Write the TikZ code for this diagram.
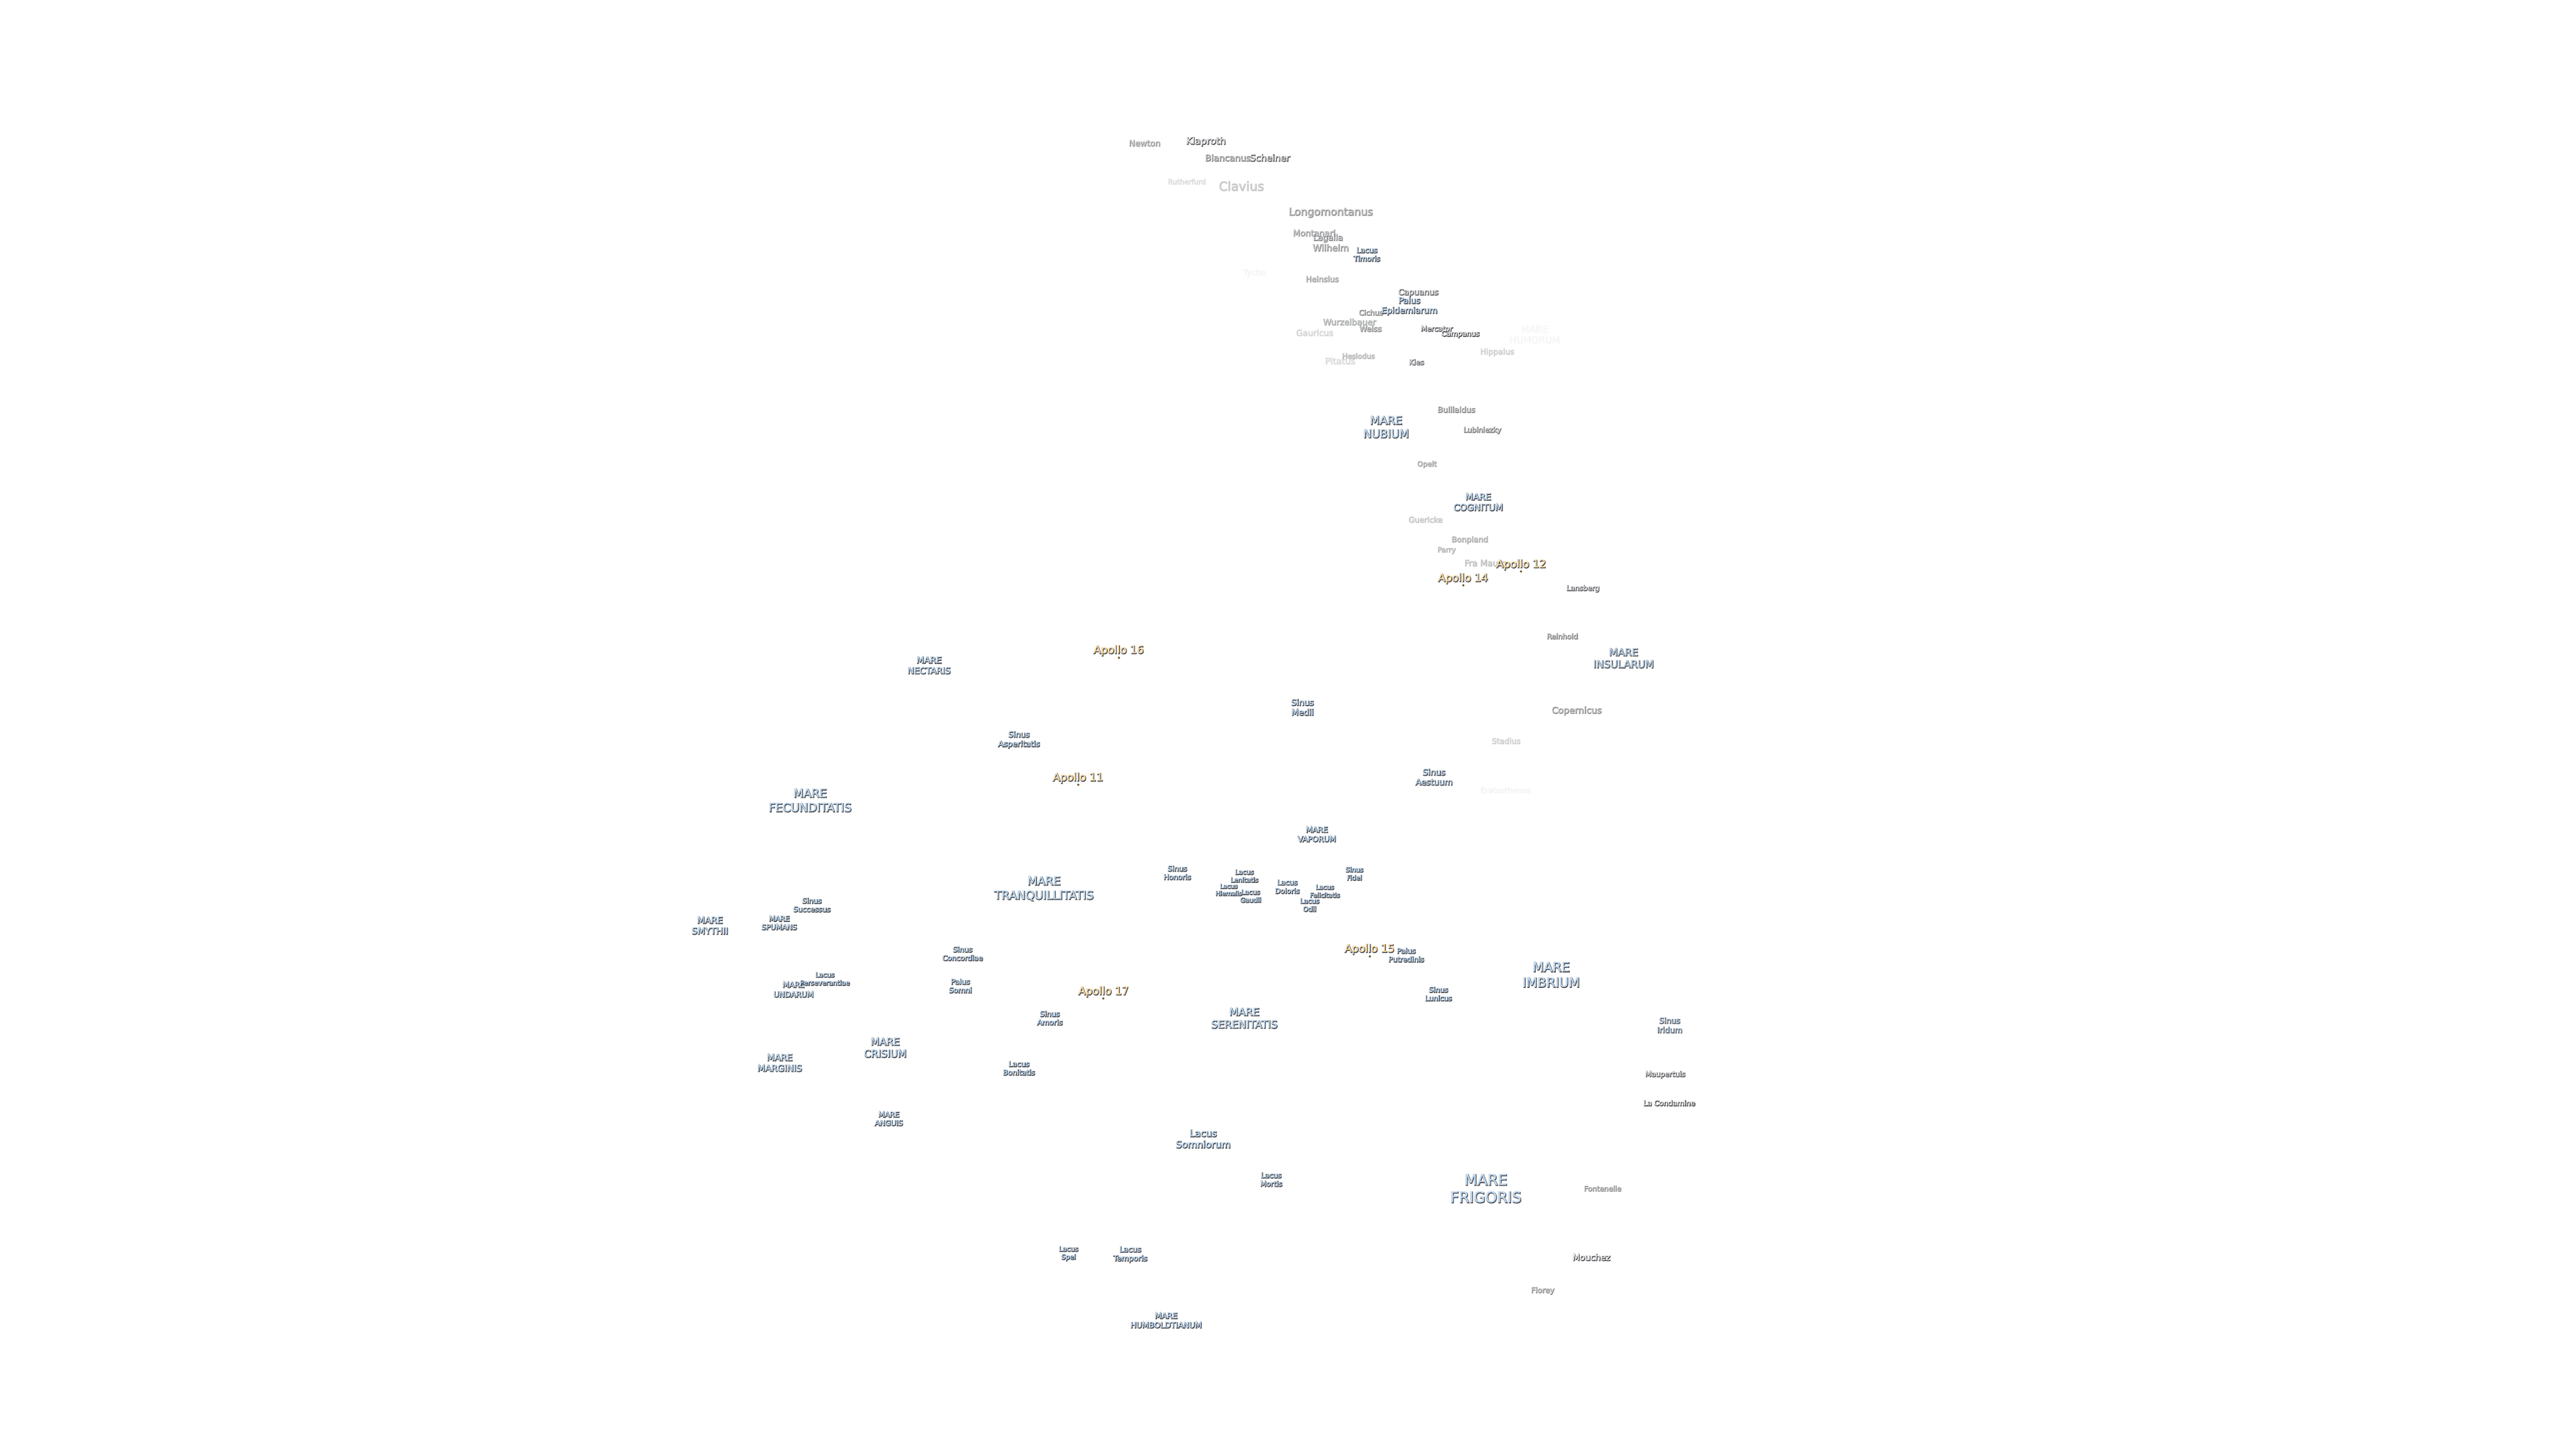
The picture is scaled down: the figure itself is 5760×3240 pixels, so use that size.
\documentclass[tikz,border=0pt]{standalone}
\usepackage{fontspec}
\setmainfont{DejaVu Sans}
\definecolor{marefill}{HTML}{C4DCF3}
\definecolor{apfill}{HTML}{FBDFAE}
\definecolor{cratfill}{HTML}{F0F0F0}
\definecolor{dotcol}{HTML}{7A5F35}
\definecolor{shadecol}{HTML}{2E3035}
\newcommand\halosm{\special{pdf:code 2 Tr 0.3 w}}
\newcommand\halosh{\special{pdf:code 2 Tr 2.0 w}}
\newcommand\halooff{\special{pdf:code 0 Tr}}
\AtBeginDocument{\lineskiplimit=-100pt\relax}
\tikzset{
  labelbase/.style={inner sep=0pt,outer sep=0pt,align=center,anchor=center},
  mare/.style={labelbase,text=marefill},
  apollo/.style={labelbase,text=apfill},
  crater/.style={labelbase,text=cratfill},
  shadowtext/.style={labelbase,text=shadecol},
  sitedot/.style={circle,inner sep=0pt,minimum size=5pt,fill=dotcol}
}
% id, x, y, font size, line spacing, kind, opacity, text
\newcommand\lab[8]{%
  \pgfmathsetlengthmacro\labh{0.73*#4}%
  \pgfmathsetmacro\labso{0.75*#7}%
  \pgfmathsetmacro\laby{#3+0.5*#5-2*(#5==0)}%
  \node[shadowtext,opacity=\labso,text height=\labh,text depth=0pt,
        font=\fontsize{#4}{#5}\selectfont] (#1s) at (#2pt+1pt,-\laby pt-1.5pt) {\halosh #8\halooff};
  \node[#6,opacity=#7,text height=\labh,text depth=0pt,
        font=\fontsize{#4}{#5}\selectfont] (#1) at (#2pt,-\laby pt) {\halosm #8\halooff};
}
\begin{document}
\begin{tikzpicture}
\useasboundingbox (0pt,0pt) rectangle (5760pt,-3240pt);
\fill[white] (0pt,0pt) rectangle (5760pt,-3240pt);
% craters
\lab{newton}{2559}{321}{18.4}{0}{crater}{.45}{Newton}
\lab{klaproth}{2696}{316}{21}{0}{crater}{.95}{Klaproth}
\lab{blancanus}{2745}{354}{19.7}{0}{crater}{.6}{Blancanus}
\lab{scheiner}{2839}{354}{20.4}{0}{crater}{.9}{Scheiner}
\lab{rutherfurd}{2653}{407}{15.8}{0}{crater}{.12}{Rutherfurd}
\lab{clavius}{2775}{417}{28}{0}{crater}{.22}{Clavius}
\lab{longomontanus}{2975}{474}{23.4}{0}{crater}{.5}{Longomontanus}
\lab{montanari}{2938}{522}{18.8}{0}{crater}{.45}{Montanari}
\lab{lagalla}{2969}{532}{18.6}{0}{crater}{.55}{Lagalla}
\lab{wilhelm}{2975}{555}{20}{0}{crater}{.5}{Wilhelm}
\lab{tycho}{2805}{610}{17.5}{0}{crater}{.03}{Tycho}
\lab{heinsius}{2956}{625}{17.4}{0}{crater}{.4}{Heinsius}
\lab{capuanus}{3171}{654}{18}{0}{crater}{.8}{Capuanus}
\lab{cichus}{3065}{700}{16.3}{0}{crater}{.55}{Cichus}
\lab{wurzelbauer}{3017}{721}{18.7}{0}{crater}{.35}{Wurzelbauer}
\lab{weiss}{3064}{736}{17.3}{0}{crater}{.5}{Weiss}
\lab{gauricus}{2939}{745}{18.8}{0}{crater}{.15}{Gauricus}
\lab{mercator}{3212}{736}{16}{0}{crater}{.9}{Mercator}
\lab{campanus}{3265}{747}{16}{0}{crater}{1}{Campanus}
\lab{hippalus}{3347}{787}{17.4}{0}{crater}{.18}{Hippalus}
\lab{hesiodus}{3037}{797}{16}{0}{crater}{.3}{Hesiodus}
\lab{pitatus}{2996}{808}{19.8}{0}{crater}{.13}{Pitatus}
\lab{kies}{3167}{811}{16.2}{0}{crater}{.7}{Kies}
\lab{bullialdus}{3256}{917}{17.4}{0}{crater}{.55}{Bullialdus}
\lab{lubiniezky}{3314}{962}{16}{0}{crater}{.65}{Lubiniezky}
\lab{opelt}{3190}{1038}{16}{0}{crater}{.4}{Opelt}
\lab{guericke}{3187}{1163}{17.2}{0}{crater}{.22}{Guericke}
\lab{bonpland}{3286}{1207}{17.3}{0}{crater}{.35}{Bonpland}
\lab{parry}{3234}{1230}{15.8}{0}{crater}{.3}{Parry}
\lab{framauro}{3321}{1260}{19}{0}{crater}{.25}{Fra Mauro}
\lab{lansberg}{3539}{1316}{16}{0}{crater}{.8}{Lansberg}
\lab{reinhold}{3493}{1424}{16}{0}{crater}{.6}{Reinhold}
\lab{copernicus}{3525}{1589}{20}{0}{crater}{.5}{Copernicus}
\lab{stadius}{3367}{1658}{17.3}{0}{crater}{.18}{Stadius}
\lab{eratosthenes}{3366}{1768}{17.1}{0}{crater}{.03}{Eratosthenes}
\lab{maupertuis}{3723}{2403}{16}{0}{crater}{.9}{Maupertuis}
\lab{lacondamine}{3732}{2468}{16.1}{0}{crater}{1}{La Condamine}
\lab{fontenelle}{3583}{2659}{16}{0}{crater}{.5}{Fontenelle}
\lab{mouchez}{3558}{2813}{19}{0}{crater}{1}{Mouchez}
\lab{florey}{3449}{2886}{17}{0}{crater}{.5}{Florey}
% maria, lakes, bays
\lab{timoris}{3056}{568}{16.2}{19}{mare}{1}{Lacus\\Timoris}
\lab{epidemiarum}{3151}{682}{18.7}{22}{mare}{1}{Palus\\Epidemiarum}
\lab{humorum}{3431}{747}{20.9}{24}{mare}{.02}{MARE\\HUMORUM}
\lab{nubium}{3099}{954}{25.2}{30}{mare}{1}{MARE\\NUBIUM}
\lab{cognitum}{3305}{1122}{20}{23.6}{mare}{1}{MARE\\COGNITUM}
\lab{insularum}{3630}{1471}{22.7}{26.7}{mare}{.85}{MARE\\INSULARUM}
\lab{medii}{2912}{1581}{18.7}{22}{mare}{1}{Sinus\\Medii}
\lab{aestuum}{3206}{1737}{18.7}{22}{mare}{1}{Sinus\\Aestuum}
\lab{vaporum}{2944}{1865}{17.2}{21}{mare}{1}{MARE\\VAPORUM}
\lab{honoris}{2632}{1951}{16}{19}{mare}{1}{Sinus\\Honoris}
\lab{lenitatis}{2782}{1958}{14.5}{17.7}{mare}{1}{Lacus\\Lenitatis}
\lab{hiemalis}{2747}{1989}{13.6}{16}{mare}{1}{Lacus\\Hiemalis}
\lab{gaudii}{2796}{2003}{14.6}{17.7}{mare}{1}{Lacus\\Gaudii}
\lab{doloris}{2878}{1982}{15.8}{19}{mare}{1}{Lacus\\Doloris}
\lab{felicitatis}{2962}{1992}{14.2}{18}{mare}{1}{Lacus\\Felicitatis}
\lab{odii}{2928}{2023}{15}{18}{mare}{1}{Lacus\\Odii}
\lab{fidei}{3028}{1953}{14.6}{18}{mare}{1}{Sinus\\Fidei}
\lab{putredinis}{3144}{2135}{16}{19}{mare}{1}{Palus\\Putredinis}
\lab{lunicus}{3216}{2222}{15.8}{19}{mare}{1}{Sinus\\Lunicus}
\lab{imbrium}{3468}{2179}{29}{34.5}{mare}{1}{MARE\\IMBRIUM}
\lab{iridum}{3733}{2292}{17.4}{21}{mare}{.8}{Sinus\\Iridum}
\lab{frigoris}{3322}{2657}{33.5}{39}{mare}{1}{MARE\\FRIGORIS}
\lab{nectaris}{2077}{1487}{19.6}{23.7}{mare}{1}{MARE\\NECTARIS}
\lab{asperitatis}{2278}{1652}{17.5}{21}{mare}{1}{Sinus\\Asperitatis}
\lab{fecunditatis}{1811}{1789}{26}{32}{mare}{1}{MARE\\FECUNDITATIS}
\lab{tranquillitatis}{2334}{1985}{25.8}{32}{mare}{1}{MARE\\TRANQUILLITATIS}
\lab{successus}{1815}{2023}{16}{19}{mare}{1}{Sinus\\Successus}
\lab{spumans}{1742}{2063}{16.1}{19}{mare}{1}{MARE\\SPUMANS}
\lab{smythii}{1587}{2069}{20}{24}{mare}{1}{MARE\\SMYTHII}
\lab{undarum}{1774}{2212}{17.2}{21.8}{mare}{1}{MARE\\UNDARUM}
\lab{perseverantiae}{1844}{2188}{14.8}{18}{mare}{1}{Lacus\\Perseverantiae}
\lab{concordiae}{2152}{2132}{16}{19}{mare}{1}{Sinus\\Concordiae}
\lab{somni}{2147}{2204}{16.3}{19}{mare}{1}{Palus\\Somni}
\lab{crisium}{1979}{2342}{22.6}{26.8}{mare}{1}{MARE\\CRISIUM}
\lab{marginis}{1743}{2376}{20}{24}{mare}{1}{MARE\\MARGINIS}
\lab{anguis}{1987}{2501}{16.3}{19}{mare}{1}{MARE\\ANGUIS}
\lab{amoris}{2347}{2276}{16.4}{19}{mare}{1}{Sinus\\Amoris}
\lab{bonitatis}{2278}{2388}{16.2}{19}{mare}{1}{Lacus\\Bonitatis}
\lab{serenitatis}{2782}{2276}{23.5}{28}{mare}{1}{MARE\\SERENITATIS}
\lab{somniorum}{2690}{2546}{21.2}{25}{mare}{1}{Lacus\\Somniorum}
\lab{mortis}{2842}{2637}{16}{19}{mare}{1}{Lacus\\Mortis}
\lab{spei}{2389}{2801}{15}{18}{mare}{1}{Lacus\\Spei}
\lab{temporis}{2527}{2803}{16.9}{20}{mare}{1}{Lacus\\Temporis}
\lab{humboldtianum}{2607}{2952}{17.6}{21}{mare}{1}{MARE\\HUMBOLDTIANUM}
% Apollo sites
\lab{ap12}{3401}{1262}{23.8}{0}{apollo}{1}{Apollo 12}
\node[sitedot] (d12) at (3401pt,-1278pt) {};
\lab{ap14}{3271}{1293}{23.8}{0}{apollo}{1}{Apollo 14}
\node[sitedot] (d14) at (3272pt,-1309pt) {};
\lab{ap15}{3062}{2122}{23.8}{0}{apollo}{1}{Apollo 15}
\node[sitedot] (d15) at (3063pt,-2139pt) {};
\lab{ap16}{2501}{1454}{24}{0}{apollo}{1}{Apollo 16}
\node[sitedot] (d16) at (2502pt,-1471pt) {};
\lab{ap11}{2410}{1739}{24}{0}{apollo}{1}{Apollo 11}
\node[sitedot] (d11) at (2411pt,-1755pt) {};
\lab{ap17}{2467}{2217}{24}{0}{apollo}{1}{Apollo 17}
\node[sitedot] (d17) at (2467pt,-2233pt) {};
\end{tikzpicture}
\end{document}
